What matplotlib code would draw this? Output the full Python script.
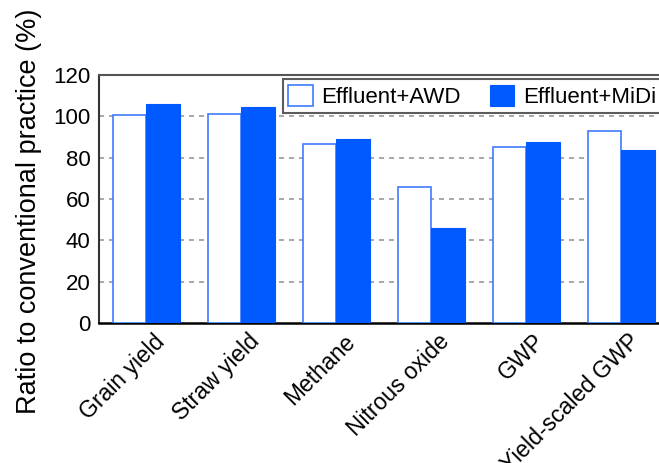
import matplotlib.pyplot as plt
import matplotlib.transforms as mtransforms
import numpy as np

categories = ["Grain yield", "Straw yield", "Methane", "Nitrous oxide", "GWP", "Yield-scaled GWP"]
awd = [100.6, 101.3, 86.8, 65.6, 85.3, 92.7]
midi = [105.8, 104.3, 89.2, 46.0, 87.7, 83.5]
yticks = [0, 20, 40, 60, 80, 100, 120]

plt.rcParams['font.family'] = ['Liberation Sans', 'DejaVu Sans']

blue = "#005AFF"
edge = "#3D7BFF"

fig = plt.figure(figsize=(6.59, 4.63), dpi=100)
ax = fig.add_axes([0.150, 0.3024, 0.8644, 0.5356])

x = np.arange(len(categories))
w = 0.353
ax.bar(x - w/2, awd, w, color="white", edgecolor=edge, linewidth=1.2, label="Effluent+AWD", zorder=3)
ax.bar(x + w/2, midi, w, color=blue, edgecolor=blue, linewidth=0.8, label="Effluent+MiDi", zorder=3)

ax.set_xlim(-0.5, len(categories) - 0.5)
ax.set_ylim(0, 120)
ax.set_yticks(yticks)
ax.set_yticklabels([str(v) for v in yticks], fontsize=16)
ax.set_xticks(x)
ax.set_xticklabels(categories, rotation=45, ha="right", rotation_mode="anchor", fontsize=16.5)
ax.tick_params(axis="both", length=0, pad=6)
ax.tick_params(axis="x", pad=5)
# labels sit a little right of the ticks in the original
shift = mtransforms.ScaledTranslation(5/72, 0, fig.dpi_scale_trans)
for lab in ax.get_xticklabels():
    lab.set_transform(lab.get_transform() + shift)

for v in yticks[1:-1]:
    ax.axhline(v, color="#9a9a9a", linestyle=(0, (3, 3)), linewidth=1.2, zorder=1)

ax.set_ylabel("Ratio to conventional practice (%)", fontsize=19.5)
ax.yaxis.set_label_coords(-0.099, 0.45)

ax.spines["top"].set_color("#555555")
ax.spines["top"].set_linewidth(1.5)
ax.spines["left"].set_color("#333333")
ax.spines["left"].set_linewidth(1.5)
ax.spines["bottom"].set_color("black")
ax.spines["bottom"].set_linewidth(1.8)

leg = ax.legend(loc="upper right", bbox_to_anchor=(0.9885, 0.984), ncol=2, fontsize=16,
                frameon=True, fancybox=False, edgecolor="#333333", handlelength=1.1,
                handleheight=1.1, columnspacing=1.3, handletextpad=0.4,
                borderpad=0.25, borderaxespad=0)
leg.get_frame().set_linewidth(1.5)
leg.set_zorder(5)

fig.savefig("out.png", dpi=100)
